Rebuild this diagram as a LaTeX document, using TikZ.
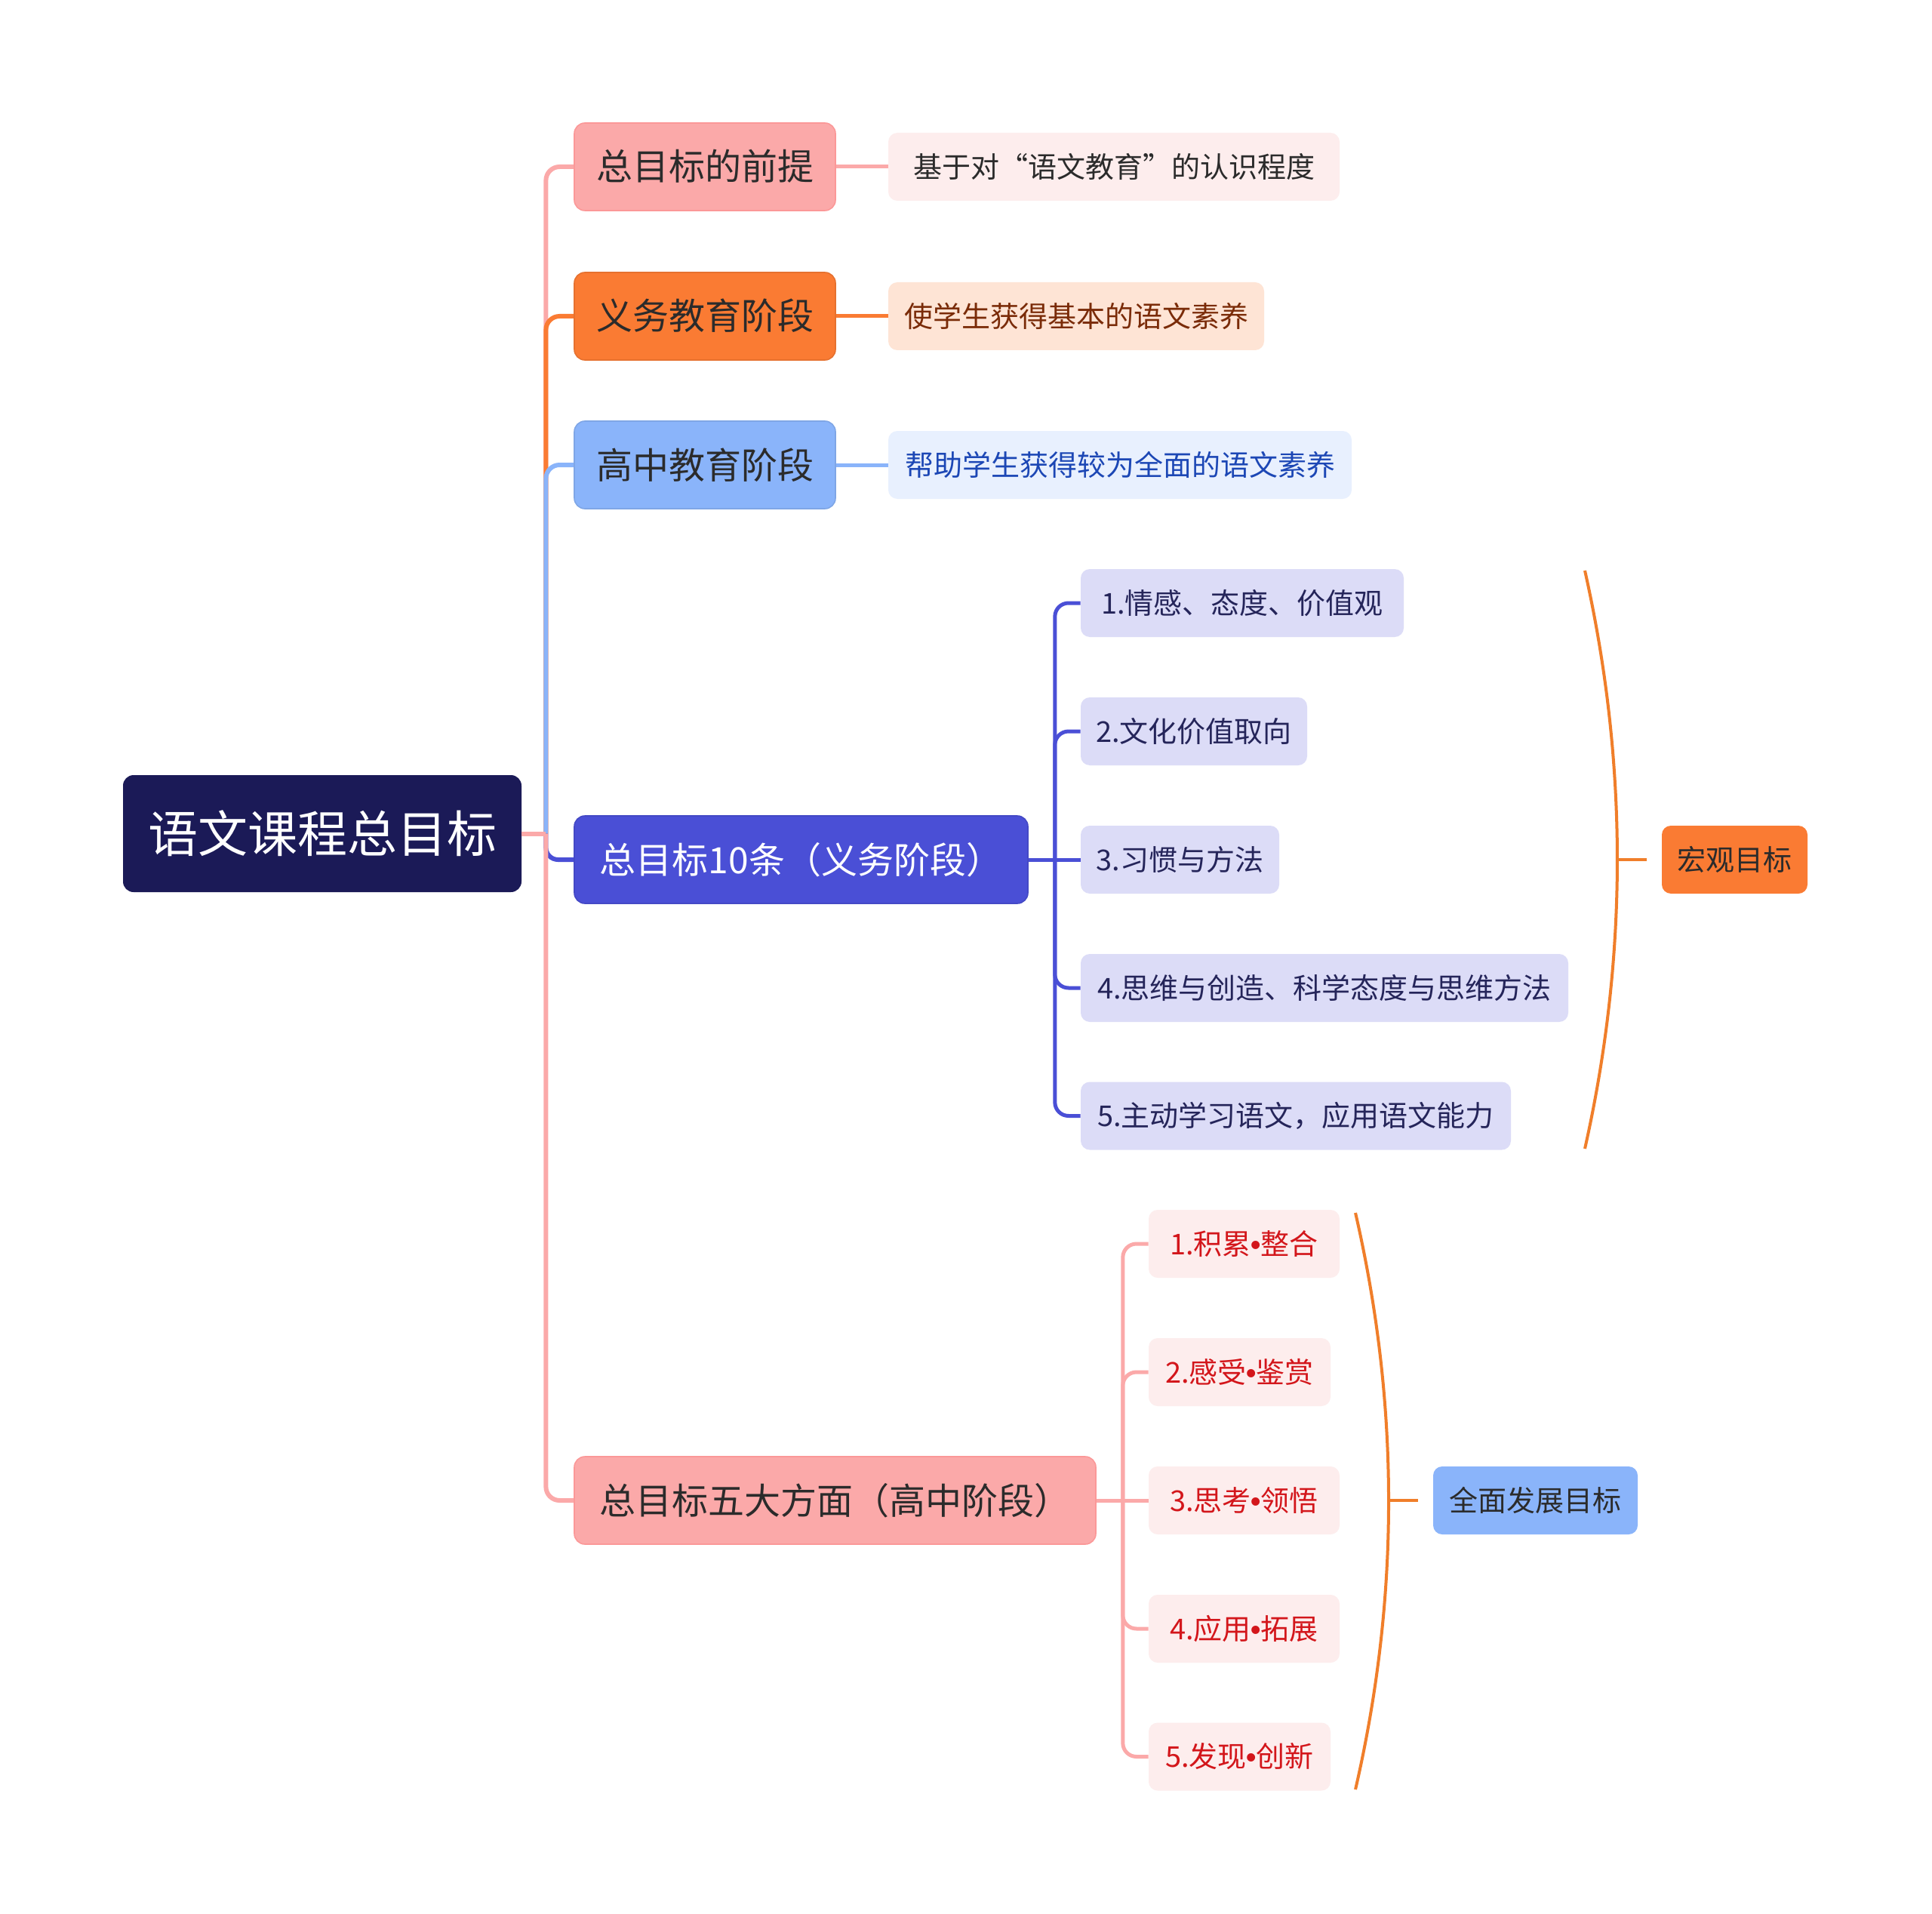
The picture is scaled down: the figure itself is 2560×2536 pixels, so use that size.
\documentclass[tikz,border=0pt]{standalone}
\usepackage{fontspec}
\newfontfamily\cjk{Noto Sans CJK SC}
\newfontfamily\bulfont{Liberation Sans}
\newcommand{\bul}{{\bulfont\bfseries •}}
\usetikzlibrary{calc}
\definecolor{navy}{HTML}{1B1A57}
\definecolor{pinkA}{HTML}{FBA9A9}
\definecolor{orangeA}{HTML}{FA7B33}
\definecolor{blueA}{HTML}{8AB4FA}
\definecolor{purpA}{HTML}{4A4FD6}
\definecolor{pinkL}{HTML}{FDEDED}
\definecolor{orangeL}{HTML}{FEE4D5}
\definecolor{blueL}{HTML}{E8F0FE}
\definecolor{lav}{HTML}{DCDCF7}
\definecolor{txtD}{HTML}{2B2B2B}
\definecolor{txtBrown}{HTML}{7A2B08}
\definecolor{txtBlue}{HTML}{1C47B5}
\definecolor{txtNavy}{HTML}{25255A}
\definecolor{txtRed}{HTML}{D3161B}
\definecolor{braceC}{HTML}{F07E2A}
\tikzset{
  base/.style={rounded corners=7pt, inner sep=0pt, align=center},
  rootbox/.style={base, fill=navy, text=white, font=\cjk\fontsize{33}{38}\selectfont,
    text height=29pt, text depth=4pt, minimum height=77.5pt},
  lvone/.style={base, font=\cjk\fontsize{24}{28}\selectfont, text height=21pt,
    text depth=3pt, minimum height=58pt, text=txtD},
  lvtwo/.style={base, rounded corners=6pt, font=\cjk\fontsize{19}{23}\selectfont,
    text height=16.7pt, text depth=2.3pt, minimum height=45pt},
  conn/.style={line width=3pt, rounded corners=9pt},
  subconn/.style={line width=2.5pt, rounded corners=9pt},
  bracel/.style={line width=2pt, draw=braceC},
}
\begin{document}
\begin{tikzpicture}[x=0.5pt,y=-0.5pt]
\fill[white] (0,0) rectangle (2560,2536);
\useasboundingbox (0,0) rectangle (2560,2536);

% root
\node[rootbox, minimum width=264pt] (root) at (427,1104.5) {语文课程总目标};

% level one
\node[lvone, fill=pinkA, draw=pinkA!90!red, line width=0.8pt, minimum width=173pt] (pre) at (934,221) {总目标的前提};
\node[lvone, fill=orangeA, draw=orangeA!92!black, line width=0.8pt, minimum width=173pt] (yw) at (934,419) {义务教育阶段};
\node[lvone, fill=blueA, draw=blueA!92!black, line width=0.8pt, minimum width=173pt] (gz) at (934,616) {高中教育阶段};
\node[lvone, fill=purpA, draw=purpA!92!black, line width=0.8pt, text=white, minimum width=300.5pt] (ten) at (1061.5,1139) {总目标10条（义务阶段）};
\node[lvone, fill=pinkA, draw=pinkA!90!red, line width=0.8pt, minimum width=345.5pt] (five) at (1106.5,1988) {总目标五大方面（高中阶段）};

% level two
\node[lvtwo, fill=pinkL, text=txtD, minimum width=299pt] (a1) at (1476,221) {基于对“语文教育”的认识程度};
\node[lvtwo, fill=orangeL, text=txtBrown, minimum width=249pt] (a2) at (1426,419) {使学生获得基本的语文素养};
\node[lvtwo, fill=blueL, text=txtBlue, minimum width=307pt] (a3) at (1484,616) {帮助学生获得较为全面的语文素养};

\node[lvtwo, fill=lav, text=txtNavy, minimum width=214pt] (t1) at (1646,799) {1.情感、态度、价值观};
\node[lvtwo, fill=lav, text=txtNavy, minimum width=150pt] (t2) at (1582,969) {2.文化价值取向};
\node[lvtwo, fill=lav, text=txtNavy, minimum width=131.5pt] (t3) at (1563.5,1139) {3.习惯与方法};
\node[lvtwo, fill=lav, text=txtNavy, minimum width=323pt] (t4) at (1755,1309) {4.思维与创造、科学态度与思维方法};
\node[lvtwo, fill=lav, text=txtNavy, minimum width=285pt] (t5) at (1717,1478.5) {5.主动学习语文，应用语文能力};

\node[lvtwo, fill=orangeA, text=txtD, minimum width=96.5pt] (macro) at (2298.5,1139) {宏观目标};

\node[lvtwo, fill=pinkL, text=txtRed, minimum width=126.5pt] (f1) at (1648.5,1648) {1.积累\bul 整合};
\node[lvtwo, fill=pinkL, text=txtRed, minimum width=120.5pt] (f2) at (1642.5,1818) {2.感受\bul 鉴赏};
\node[lvtwo, fill=pinkL, text=txtRed, minimum width=126.5pt] (f3) at (1648.5,1988) {3.思考\bul 领悟};
\node[lvtwo, fill=pinkL, text=txtRed, minimum width=126.5pt] (f4) at (1648.5,2158) {4.应用\bul 拓展};
\node[lvtwo, fill=pinkL, text=txtRed, minimum width=120.5pt] (f5) at (1642.5,2327.5) {5.发现\bul 创新};

\node[lvtwo, fill=blueA, text=txtD, minimum width=135.5pt] (whole) at (2034.5,1988) {全面发展目标};

% root connectors
\coordinate (rj) at ($(root.east)+(32,0)$);
\draw[conn, pinkA] (rj) |- (pre.west);
\draw[conn, orangeA] (rj) |- (yw.west);
\draw[conn, blueA] (rj) |- (gz.west);
\draw[conn, purpA, rounded corners=8pt] (rj) |- (ten.west);
\draw[conn, pinkA] (rj) |- (five.west);
\draw[conn, pinkA] (root.east) -- (rj);

% level two connectors
\draw[subconn, pinkA] (pre.east) -- (a1.west);
\draw[subconn, orangeA] (yw.east) -- (a2.west);
\draw[subconn, blueA] (gz.east) -- (a3.west);

\coordinate (tj) at ($(ten.east)+(35,0)$);
\draw[subconn, purpA] (ten.east) -- (tj);
\draw[subconn, purpA] (tj) |- (t1.west);
\draw[subconn, purpA] (tj) |- (t2.west);
\draw[subconn, purpA] (tj) -- (t3.west);
\draw[subconn, purpA] (tj) |- (t4.west);
\draw[subconn, purpA] (tj) |- (t5.west);

\coordinate (fj) at ($(five.east)+(35,0)$);
\draw[subconn, pinkA] (five.east) -- (fj);
\draw[subconn, pinkA] (fj) |- (f1.west);
\draw[subconn, pinkA] (fj) |- (f2.west);
\draw[subconn, pinkA] (fj) -- (f3.west);
\draw[subconn, pinkA] (fj) |- (f4.west);
\draw[subconn, pinkA] (fj) |- (f5.west);

% braces
\coordinate (b1t) at (2100,756);
\coordinate (b1b) at (2100,1522);
\coordinate (b1m) at (2143,1139);
\draw[bracel] (b1t) .. controls (2157.3,1011.3) and (2157.3,1266.7) .. (b1b);
\draw[bracel] (b1m) -- ($(macro.west)+(-20,0)$);

\coordinate (b2t) at (1796,1607);
\coordinate (b2b) at (1796,2371);
\coordinate (b2m) at (1840,1988);
\draw[bracel] (b2t) .. controls (1854.7,1861.7) and (1854.7,2116.3) .. (b2b);
\draw[bracel] (b2m) -- ($(whole.west)+(-20,0)$);
\end{tikzpicture}
\end{document}
